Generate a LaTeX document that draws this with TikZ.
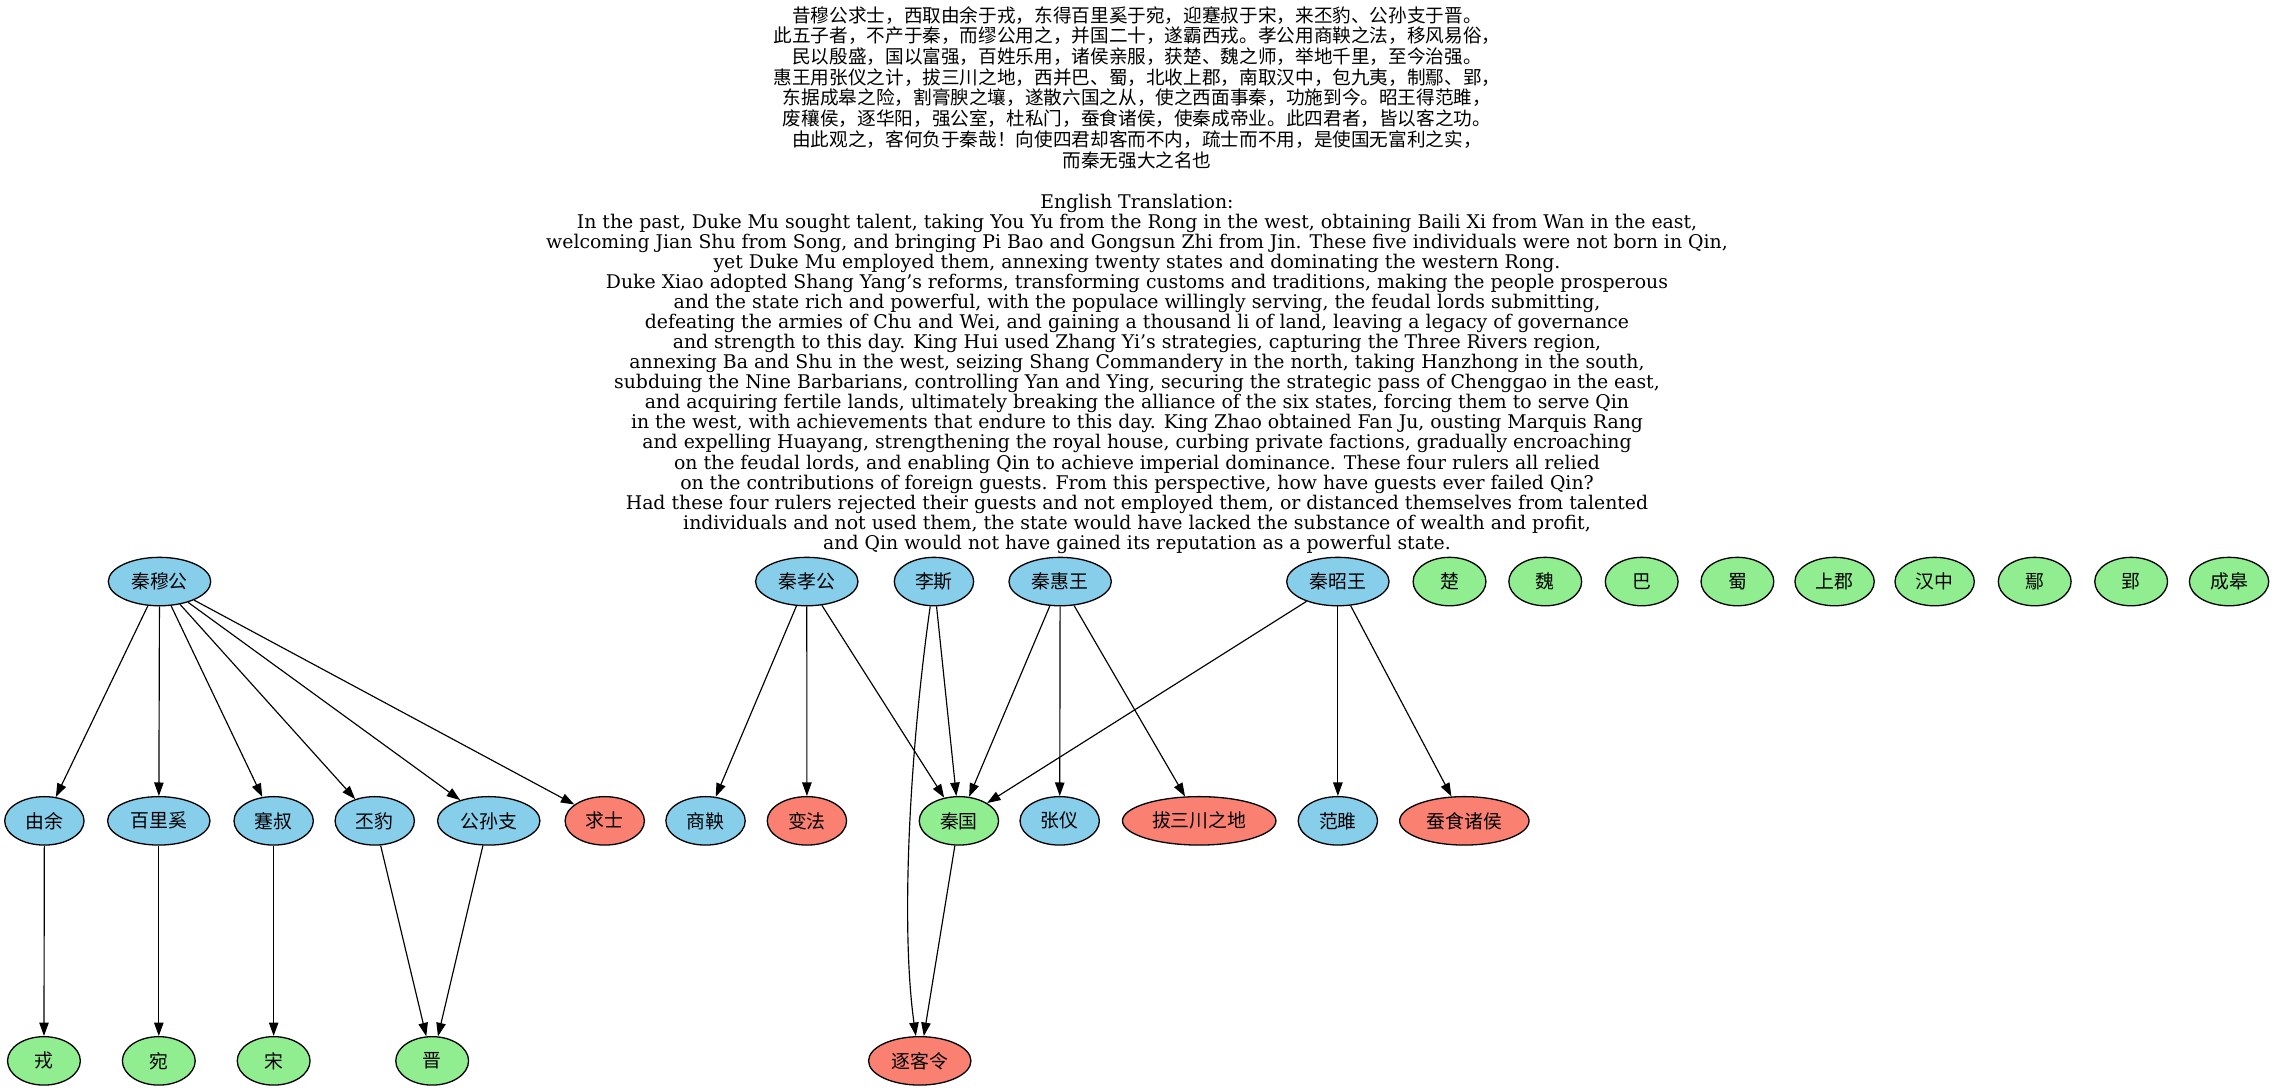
\documentclass[tikz,border=0pt]{standalone}
\usepackage{fontspec}
\setmainfont{DejaVu Serif}
\newfontfamily\cjk{Noto Sans CJK SC}
\usetikzlibrary{arrows.meta,shapes.geometric}
\definecolor{skyblue}{HTML}{87CEEB}
\definecolor{lightgreen}{HTML}{90EE90}
\definecolor{salmonc}{HTML}{FA8072}
\tikzset{
  nd/.style={ellipse, draw=black, line width=0.9pt, inner sep=0pt, minimum height=33.4pt,
    font=\cjk\fontsize{13}{15}\selectfont},
  w1/.style={minimum width=50.2pt},
  w2/.style={minimum width=54.7pt},
  w3/.style={minimum width=70.6pt},
  w4/.style={minimum width=89.2pt},
  w5/.style={minimum width=105.8pt},
  person/.style={nd, fill=skyblue},
  place/.style={nd, fill=lightgreen},
  act/.style={nd, fill=salmonc},
  arr/.style={-{Triangle[length=9.3pt,width=6.5pt]}, line width=0.8pt},
  cntext/.style={align=center, inner sep=0pt, font=\cjk\fontsize{12.85}{14.29}\selectfont},
  entext/.style={align=center, inner sep=0pt, font=\fontsize{13}{13.8}\selectfont}
}
\begin{document}
\begin{tikzpicture}[x=1pt,y=-1pt]
\path[use as bounding box, fill=white] (0,0) rectangle (1568,752);

\node[cntext] (cn) at (784,60.3) {昔穆公求士，西取由余于戎，东得百里奚于宛，迎蹇叔于宋，来丕豹、公孙支于晋。\\
此五子者，不产于秦，而缪公用之，并国二十，遂霸西戎。孝公用商鞅之法，移风易俗，\\
民以殷盛，国以富强，百姓乐用，诸侯亲服，获楚、魏之师，举地千里，至今治强。\\
惠王用张仪之计，拔三川之地，西并巴、蜀，北收上郡，南取汉中，包九夷，制鄢、郢，\\
东据成皋之险，割膏腴之壤，遂散六国之从，使之西面事秦，功施到今。昭王得范雎，\\
废穰侯，逐华阳，强公室，杜私门，蚕食诸侯，使秦成帝业。此四君者，皆以客之功。\\
由此观之，客何负于秦哉！向使四君却客而不内，疏士而不用，是使国无富利之实，\\
而秦无强大之名也};

\node[entext] (en) at (784,257.8) {English Translation:\\
In the past, Duke Mu sought talent, taking You Yu from the Rong in the west, obtaining Baili Xi from Wan in the east,\\
welcoming Jian Shu from Song, and bringing Pi Bao and Gongsun Zhi from Jin. These five individuals were not born in Qin,\\
yet Duke Mu employed them, annexing twenty states and dominating the western Rong.\\
Duke Xiao adopted Shang Yang’s reforms, transforming customs and traditions, making the people prosperous\\
and the state rich and powerful, with the populace willingly serving, the feudal lords submitting,\\
defeating the armies of Chu and Wei, and gaining a thousand li of land, leaving a legacy of governance\\
and strength to this day. King Hui used Zhang Yi’s strategies, capturing the Three Rivers region,\\
annexing Ba and Shu in the west, seizing Shang Commandery in the north, taking Hanzhong in the south,\\
subduing the Nine Barbarians, controlling Yan and Ying, securing the strategic pass of Chenggao in the east,\\
and acquiring fertile lands, ultimately breaking the alliance of the six states, forcing them to serve Qin\\
in the west, with achievements that endure to this day. King Zhao obtained Fan Ju, ousting Marquis Rang\\
and expelling Huayang, strengthening the royal house, curbing private factions, gradually encroaching\\
on the feudal lords, and enabling Qin to achieve imperial dominance. These four rulers all relied\\
on the contributions of foreign guests. From this perspective, how have guests ever failed Qin?\\
Had these four rulers rejected their guests and not employed them, or distanced themselves from talented\\
individuals and not used them, the state would have lacked the substance of wealth and profit,\\
and Qin would not have gained its reputation as a powerful state.};

% row 1
\node[person,w3] (mu) at (110,401) {秦穆公};
\node[person,w3] (xiao) at (556.3,401) {秦孝公};
\node[person,w2] (lisi) at (644,401) {李斯};
\node[person,w3] (hui) at (731,401) {秦惠王};
\node[person,w3] (zhao) at (922.5,401) {秦昭王};
\node[place,w1] (chu) at (999.5,401) {楚};
\node[place,w1] (wei) at (1065.5,401) {魏};
\node[place,w1] (ba) at (1132,401) {巴};
\node[place,w1] (shu) at (1198,401) {蜀};
\node[place,w2] (shangjun) at (1265,401) {上郡};
\node[place,w2] (hanzhong) at (1334,401) {汉中};
\node[place,w1] (yan) at (1403,401) {鄢};
\node[place,w1] (ying) at (1469.5,401) {郢};
\node[place,w2] (chenggao) at (1537,401) {成皋};

% row 2
\node[person,w2] (youyu) at (30.6,566) {由余};
\node[person,w3] (baili) at (109.5,566) {百里奚};
\node[person,w2] (jianshu) at (188.7,566) {蹇叔};
\node[person,w2] (pibao) at (258.4,566) {丕豹};
\node[person,w3] (gongsun) at (337,566) {公孙支};
\node[act,w2] (qiushi) at (417,566) {求士};
\node[person,w2] (shangyang) at (486.5,566) {商鞅};
\node[act,w2] (bianfa) at (556.4,566) {变法};
\node[place,w2] (qin) at (661.2,566) {秦国};
\node[person,w2] (zhangyi) at (730.7,566) {张仪};
\node[act,w5] (sanchuan) at (826.9,566) {拔三川之地};
\node[person,w2] (fanju) at (922.5,566) {范雎};
\node[act,w4] (canshi) at (1009.7,566) {蚕食诸侯};

% row 3
\node[place,w1] (rong) at (30.3,731.5) {戎};
\node[place,w1] (wan) at (109.5,731.5) {宛};
\node[place,w1] (song) at (188.7,731.5) {宋};
\node[place,w1] (jin) at (298,731.5) {晋};
\node[act,w3] (zhuke) at (634.2,731.5) {逐客令};

% edges
\foreach \t in {youyu,baili,jianshu,pibao,gongsun,qiushi} \draw[arr] (mu) -- (\t);
\foreach \t in {shangyang,bianfa,qin} \draw[arr] (xiao) -- (\t);
\draw[arr] (lisi) -- (qin);
\draw[arr] ([xshift=-2.6pt]lisi.south) .. controls (627,520) and (621,640) .. ([xshift=-2.7pt]zhuke.north);
\foreach \t in {qin,zhangyi,sanchuan} \draw[arr] (hui) -- (\t);
\foreach \t in {qin,fanju,canshi} \draw[arr] (zhao) -- (\t);
\draw[arr] (youyu) -- (rong);
\draw[arr] (baili) -- (wan);
\draw[arr] (jianshu) -- (song);
\draw[arr] (pibao) -- (jin);
\draw[arr] (gongsun) -- (jin);
\draw[arr] (qin) -- (zhuke);
\end{tikzpicture}
\end{document}
